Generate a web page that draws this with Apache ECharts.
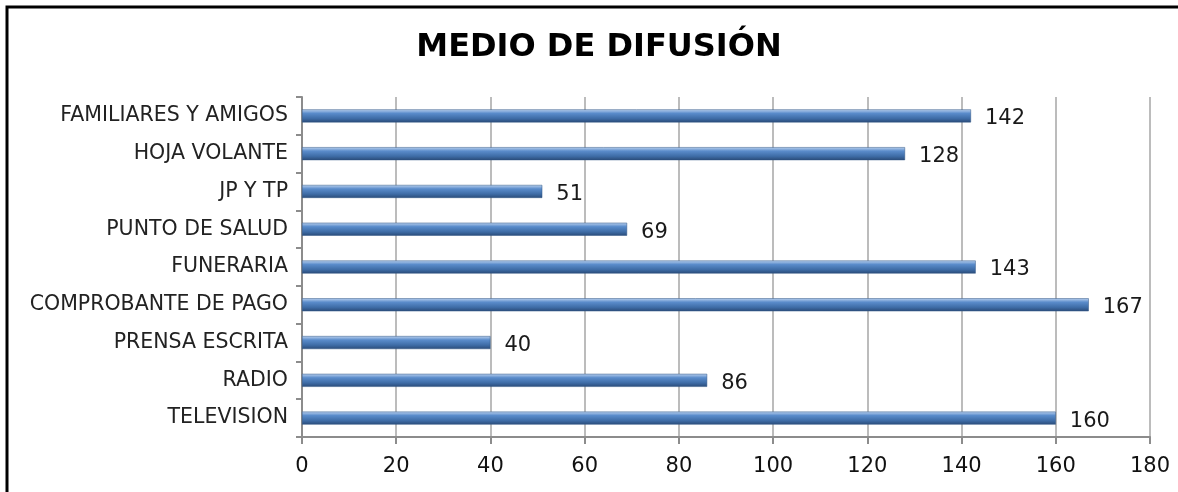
<!DOCTYPE html>
<html><head><meta charset="utf-8">
<script src="https://cdn.jsdelivr.net/npm/echarts@6/dist/echarts.min.js"></script>
<style>html,body{margin:0;padding:0;background:#fff}#c{width:1178px;height:492px}</style>
</head><body><div id="c"></div>
<script>
const titleText = 'MEDIO DE DIFUSIÓN';
const categories = ['TELEVISION','RADIO','PRENSA ESCRITA','COMPROBANTE DE PAGO','FUNERARIA','PUNTO DE SALUD','JP Y TP','HOJA VOLANTE','FAMILIARES Y AMIGOS'];
const values = [160, 86, 40, 167, 143, 69, 51, 128, 142];
const xTicks = [0, 20, 40, 60, 80, 100, 120, 140, 160, 180];

const F = '"DejaVu Sans"';
const chart = echarts.init(document.getElementById('c'), null, {renderer:'canvas'});
chart.setOption({
  animation:false,
  title:{text:titleText,left:594,textAlign:'center',top:27,textStyle:{fontFamily:F,fontWeight:'bold',fontSize:32,color:'#000'}},
  graphic:[{type:'rect',shape:{x:7,y:7,width:1300,height:700},style:{fill:'none',stroke:'#000',lineWidth:3},silent:true}],
  grid:{left:302,right:28,top:97,bottom:55},
  xAxis:{type:'value',min:xTicks[0],max:xTicks[xTicks.length-1],interval:20,
    axisLine:{show:true,lineStyle:{color:'#8c8c8c',width:2}},
    axisTick:{show:true,length:7,lineStyle:{color:'#8c8c8c',width:2}},
    axisLabel:{fontFamily:F,fontSize:21,color:'#111',margin:19},
    splitLine:{show:true,lineStyle:{color:'#a6a6a6',width:1.5}}},
  yAxis:{type:'category',data:categories,
    axisLine:{show:true,lineStyle:{color:'#8c8c8c',width:2}},
    axisTick:{show:true,length:6,lineStyle:{color:'#8c8c8c',width:2}},
    axisLabel:{fontFamily:F,fontSize:20.5,color:'#222',margin:14},
    splitLine:{show:false}},
  series:[{type:'bar',data:values,barWidth:13,
    itemStyle:{color:new echarts.graphic.LinearGradient(0,0,0,1,[
      {offset:0,color:'#bcd2ef'},{offset:0.3,color:'#5a8ccb'},{offset:0.7,color:'#3e6ca6'},{offset:1,color:'#2a4b78'}]),
      borderColor:'#2e5484',borderWidth:0.5},
    label:{show:true,position:'right',distance:14,fontFamily:F,fontSize:21,color:'#1a1a1a',offset:[0,3]}}]
});
</script></body></html>
